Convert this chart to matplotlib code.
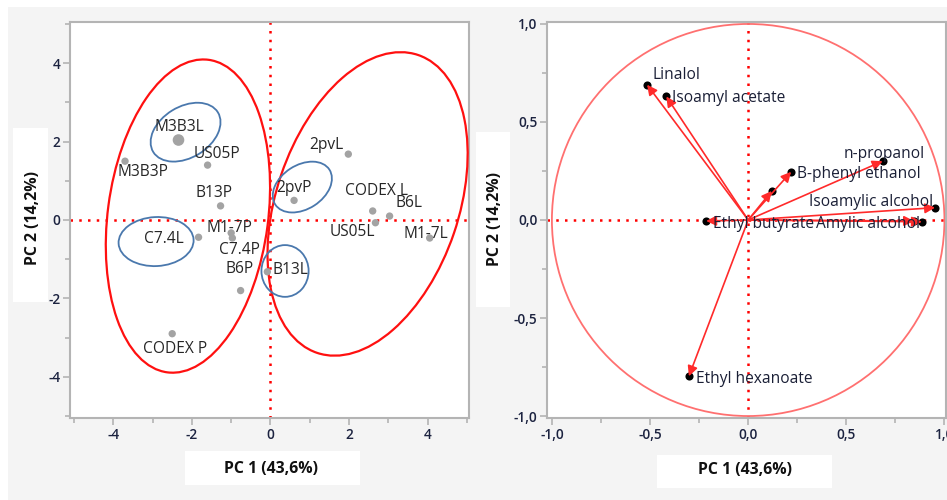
import matplotlib
matplotlib.use('Agg')
import matplotlib.pyplot as plt
from matplotlib.patches import Ellipse, Circle, Rectangle, FancyArrowPatch

plt.rcParams['font.family'] = ['Open Sans', 'DejaVu Sans']

# ---------------- data: scores (left panel) ----------------
sample_names = ['M3B3L', 'US05P', 'M3B3P', 'B13P', '2pvL', '2pvP', 'CODEX L', 'B6L',
                'US05L', 'M1-7L', 'C7.4L', 'M1-7P', 'C7.4P', 'B6P', 'B13L', 'CODEX P']
pc1_scores = [-2.34, -1.60, -3.70, -1.27, 1.98, 0.60, 2.60, 3.03,
              2.67, 4.05, -1.83, -1.00, -0.97, -0.76, -0.08, -2.50]
pc2_scores = [2.04, 1.40, 1.50, 0.36, 1.68, 0.50, 0.23, 0.10,
              -0.07, -0.46, -0.44, -0.33, -0.46, -1.80, -1.32, -2.90]

# group ellipses (center x, center y, width, height, angle)
group_ellipses = [(-2.10, 0.10, 4.08, 8.04, -7.5),
                  (2.47, 0.41, 4.64, 8.02, -18.7)]
sub_ellipses = [(-2.16, 2.24, 1.93, 1.30, 31.7),
                (0.81, 0.84, 1.64, 1.12, 33.0),
                (-2.91, -0.55, 1.91, 1.25, 3.0),
                (0.37, -1.30, 1.20, 1.32, 0.0)]

# ---------------- data: loadings (right panel) ----------------
variables = ['Linalol', 'Isoamyl acetate', 'n-propanol', 'B-phenyl ethanol', '',
             'Isoamylic alcohol', 'Amylic alcohol', '', 'Ethyl butyrate', 'Ethyl hexanoate']
pc1_load = [-0.515, -0.417, 0.685, 0.219, 0.120, 0.952, 0.885, 0.845, -0.214, -0.302]
pc2_load = [0.690, 0.630, 0.300, 0.246, 0.148, 0.063, -0.009, -0.005, -0.005, -0.797]

left_ticks = [-4, -2, 0, 2, 4]
left_ticklabels = ['-4', '-2', '0', '2', '4']
right_ticks = [-1.0, -0.5, 0.0, 0.5, 1.0]
right_ticklabels = ['-1,0', '-0,5', '0,0', '0,5', '1,0']
xlabel = 'PC 1 (43,6%)'
ylabel = 'PC 2 (14,2%)'

# label offsets in pixels (style/layout)
score_offsets = {'M3B3L': (-24, 13), 'US05P': (-14, 11), 'M3B3P': (-8, -11), 'B13P': (-25, 13),
                 '2pvL': (-39, 9), '2pvP': (-18, 12), 'CODEX L': (-28, 20), 'B6L': (6, 13),
                 'US05L': (-46, -9), 'M1-7L': (-26, 4), 'C7.4L': (-55, -2), 'M1-7P': (-25, 5),
                 'C7.4P': (-13, -12), 'B6P': (-15, 22), 'B13L': (5, 2), 'CODEX P': (-29, -15)}
load_offsets = {'Linalol': (5, 10), 'Isoamyl acetate': (6, -2), 'n-propanol': (-39, 7),
                'B-phenyl ethanol': (6, -2), 'Isoamylic alcohol': (-126, 6),
                'Amylic alcohol': (-106, -2), 'Ethyl butyrate': (7, -3), 'Ethyl hexanoate': (7, -3)}

W, H = 947, 500
fig = plt.figure(figsize=(W / 100, H / 100), dpi=100, facecolor='white')

def box(x0, y0, x1, y1, color):
    fig.patches.append(Rectangle((x0 / W, 1 - y1 / H), (x1 - x0) / W, (y1 - y0) / H,
                                 transform=fig.transFigure, facecolor=color,
                                 edgecolor='none', zorder=-10))

box(8, 7, W, H, '#f4f4f4')
box(13, 128, 48, 302, 'white')
box(185, 451, 360, 485, 'white')
box(476, 132, 510, 307, 'white')
box(657, 455, 832, 488, 'white')

tick_color = '#1c2340'
spine_color = '#b4b4b4'

def style_axes(ax, ticks, labels, minor):
    ax.set_facecolor('white')
    for s in ax.spines.values():
        s.set_color(spine_color)
        s.set_linewidth(1.5)
    ax.set_xticks(ticks)
    ax.set_yticks(ticks)
    ax.set_xticklabels(labels)
    ax.set_yticklabels(labels)
    ax.set_xticks(minor, minor=True)
    ax.set_yticks(minor, minor=True)
    ax.tick_params(which='major', length=5, width=1.2, color=spine_color,
                   labelsize=9.8, labelcolor=tick_color, pad=2)
    ax.tick_params(which='minor', length=3.5, width=1.2, color=spine_color)
    for lab in ax.get_xticklabels() + ax.get_yticklabels():
        lab.set_fontweight('semibold')
    # zero ticks in red
    ax.xaxis.get_major_ticks()[2].tick1line.set_color('red')
    ax.yaxis.get_major_ticks()[2].tick1line.set_color('red')
    ax.axhline(0, color='red', linestyle=(0, (1, 2.5)), linewidth=1.8, zorder=1)
    ax.axvline(0, color='red', linestyle=(0, (1, 2.5)), linewidth=1.8, zorder=1)

# ---------------- left panel ----------------
axL = fig.add_axes([70 / W, 1 - 418 / H, 399 / W, 396 / H])
axL.set_xlim(-5.1, 5.05)
axL.set_ylim(-5.05, 5.05)
style_axes(axL, left_ticks, left_ticklabels, [-5, -3, -1, 1, 3, 5])

for (cx, cy, w, h, a) in group_ellipses:
    axL.add_patch(Ellipse((cx, cy), w, h, angle=a, facecolor='none',
                          edgecolor='#ff1010', linewidth=1.6, zorder=3))
for (cx, cy, w, h, a) in sub_ellipses:
    axL.add_patch(Ellipse((cx, cy), w, h, angle=a, facecolor='none',
                          edgecolor='#4a78ad', linewidth=1.3, zorder=3))

sizes = [70 if n == 'M3B3L' else 28 for n in sample_names]
axL.scatter(pc1_scores, pc2_scores, s=sizes, color='#a3a3a3', zorder=4, linewidths=0)
for n, x, y in zip(sample_names, pc1_scores, pc2_scores):
    dx, dy = score_offsets[n]
    axL.annotate(n, (x, y), xytext=(dx, dy), textcoords='offset pixels',
                 ha='left', va='center', fontsize=11.2, color='#262626', zorder=5)

# ---------------- right panel ----------------
axR = fig.add_axes([547 / W, 1 - 418 / H, 399 / W, 396 / H])
axR.set_xlim(-1.025, 1.008)
axR.set_ylim(-1.01, 1.01)
style_axes(axR, right_ticks, right_ticklabels,
           [-1.0, -0.75, -0.5, -0.25, 0.0, 0.25, 0.5, 0.75, 1.0])

axR.add_patch(Circle((0, 0), 1.0, facecolor='none', edgecolor='#ff7070',
                     linewidth=1.3, zorder=2))
axR.scatter(pc1_load, pc2_load, s=34, color='black', zorder=4, linewidths=0)
for n, x, y in zip(variables, pc1_load, pc2_load):
    axR.add_patch(FancyArrowPatch((0, 0), (x, y), arrowstyle='-|>', mutation_scale=15,
                                  color='#ff2a2a', linewidth=1.2, shrinkA=0, shrinkB=0,
                                  zorder=5))
    if n:
        dx, dy = load_offsets[n]
        axR.annotate(n, (x, y), xytext=(dx, dy), textcoords='offset pixels',
                     ha='left', va='center', fontsize=11.2, color='#1a1f36', zorder=6)

# ---------------- axis titles ----------------
fig.text(271 / W, 1 - 469 / H, xlabel, ha='center', va='center',
         fontsize=11.4, fontweight='bold', color='#111111')
fig.text(745 / W, 1 - 470 / H, xlabel, ha='center', va='center',
         fontsize=11.4, fontweight='bold', color='#111111')
fig.text(33 / W, 1 - 218 / H, ylabel, ha='center', va='center', rotation=90,
         fontsize=11.4, fontweight='bold', color='#111111')
fig.text(495 / W, 1 - 219 / H, ylabel, ha='center', va='center', rotation=90,
         fontsize=11.4, fontweight='bold', color='#111111')

fig.savefig('out.png', dpi=100, facecolor=fig.get_facecolor())
